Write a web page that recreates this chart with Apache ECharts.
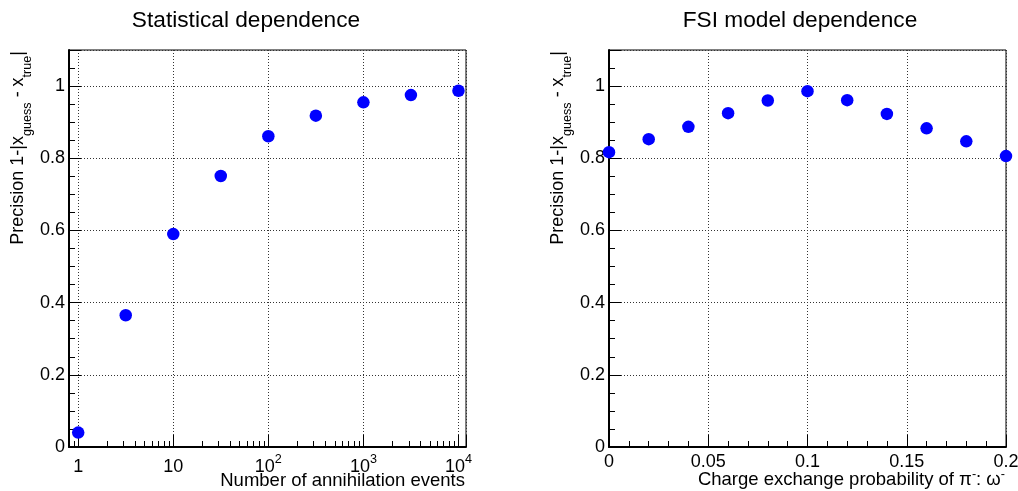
<!DOCTYPE html>
<html>
<head>
<meta charset="utf-8">
<title>Precision dependence</title>
<script src="https://cdn.jsdelivr.net/npm/echarts@6/dist/echarts.min.js"></script>
<style>
  html, body { margin: 0; padding: 0; background: #fff; }
  #chart { width: 1018px; height: 491px; }
</style>
</head>
<body>
<div id="chart"></div>
<script>
// Left panel: precision versus number of annihilation events (log scale)
const events = [1, 3.16, 10, 31.6, 100, 316, 1000, 3160, 10000];
const precisionStat = [0.04, 0.365, 0.59, 0.751, 0.861, 0.918, 0.955, 0.975, 0.987];

// Right panel: precision versus charge exchange probability
const chargeExchange = [0, 0.02, 0.04, 0.06, 0.08, 0.1, 0.12, 0.14, 0.16, 0.18, 0.2];
const precisionFsi = [0.817, 0.853, 0.887, 0.925, 0.960, 0.986, 0.961, 0.923, 0.883, 0.847, 0.806];

// Minor tick positions of the logarithmic axis
const logMinorTicks = [0.9, 2, 3, 4, 5, 6, 7, 8, 9, 20, 30, 40, 50, 60, 70, 80, 90,
  200, 300, 400, 500, 600, 700, 800, 900, 2000, 3000, 4000, 5000, 6000, 7000, 8000, 9000];

const titles = ['Statistical dependence', 'FSI model dependence'];
const yName = 'Precision 1-|x{sub|guess} - x{sub|true}|';
const xNames = ['Number of annihilation events', 'Charge exchange probability of π{sup|-}: ω{sup|-}'];

const FONT = '"Liberation Sans", Arial, Helvetica, sans-serif';
const LOG_MIN = 0.8, LOG_MAX = 12000;

const chart = echarts.init(document.getElementById('chart'), null, { renderer: 'canvas' });

const grids = [
  { left: 69, top: 50, width: 397, height: 397 },
  { left: 609, top: 50, width: 397, height: 397 }
];

const dotted = { show: true, lineStyle: { color: '#333', width: 1, type: [1, 2] } };
const axisLine = { show: true, onZero: false, lineStyle: { color: '#000', width: 2 } };

function decadeLabel(v) {
  const l = Math.log10(v);
  const e = Math.round(l);
  if (Math.abs(l - e) > 1e-6) return '';
  if (e === 0) return '1';
  if (e === 1) return '10';
  return '10{sup|' + e + '}';
}

function yLabel(v) {
  if (v > 1.05) return '';
  return String(Math.round(v * 10) / 10);
}

function yAxis(gridIndex) {
  return {
    type: 'value', gridIndex: gridIndex, min: 0, max: 1.1, interval: 0.2,
    axisLine: axisLine,
    axisTick: { show: true, inside: true, length: 12, lineStyle: { color: '#000', width: 1 } },
    minorTick: { show: true, splitNumber: 4, length: 6, lineStyle: { color: '#000', width: 1 } },
    axisLabel: { margin: 4, fontSize: 18, fontFamily: FONT, color: '#000', formatter: yLabel },
    splitLine: dotted
  };
}

const marker = { color: '#0000ff', opacity: 1 };

const option = {
  animation: false,
  backgroundColor: '#fff',
  title: titles.map((t, i) => ({
    text: t, left: i === 0 ? 241 : 795, top: 4, textAlign: 'center',
    textStyle: { fontSize: 22.7, fontWeight: 'normal', fontFamily: FONT, color: '#000' }
  })),
  grid: grids.map(g => Object.assign({
    show: true, borderColor: '#000', borderWidth: 1, backgroundColor: 'transparent',
    containLabel: false, outerBoundsMode: 'none'
  }, g)),
  xAxis: [
    {
      type: 'log', logBase: 10, gridIndex: 0, position: 'bottom', min: LOG_MIN, max: LOG_MAX,
      axisLine: axisLine,
      axisTick: { show: true, inside: true, length: 12, lineStyle: { color: '#000', width: 1 } },
      axisLabel: {
        margin: 6, fontSize: 18, fontFamily: FONT, color: '#000', lineHeight: 28,
        formatter: decadeLabel,
        rich: { sup: { fontSize: 12.6, fontFamily: FONT, color: '#000', verticalAlign: 'top', lineHeight: 13 } }
      },
      splitLine: dotted
    },
    {
      // helper axis in decade units carrying only the minor ticks
      type: 'value', gridIndex: 0, position: 'bottom',
      min: Math.log10(LOG_MIN), max: Math.log10(LOG_MAX),
      axisLine: { show: false },
      axisLabel: { show: false },
      splitLine: { show: false },
      axisTick: {
        show: true, inside: true, length: 6,
        customValues: logMinorTicks.map(v => Math.log10(v)),
        lineStyle: { color: '#000', width: 1 }
      }
    },
    {
      type: 'value', gridIndex: 1, position: 'bottom', min: 0, max: 0.2, interval: 0.05,
      axisLine: axisLine,
      axisTick: { show: true, inside: true, length: 12, lineStyle: { color: '#000', width: 1 } },
      minorTick: { show: true, splitNumber: 5, length: 6, lineStyle: { color: '#000', width: 1 } },
      axisLabel: { margin: 5, fontSize: 18, fontFamily: FONT, color: '#000', lineHeight: 20 },
      splitLine: dotted
    }
  ],
  yAxis: [yAxis(0), yAxis(1)],
  series: [
    {
      type: 'scatter', xAxisIndex: 0, yAxisIndex: 0, clip: false, z: 5,
      symbol: 'circle', symbolSize: 12.5,
      itemStyle: marker,
      data: events.map((x, i) => [x, precisionStat[i]])
    },
    {
      type: 'scatter', xAxisIndex: 2, yAxisIndex: 1, clip: false, z: 5,
      symbol: 'circle', symbolSize: 12.5,
      itemStyle: marker,
      data: chargeExchange.map((x, i) => [x, precisionFsi[i]])
    }
  ],
  graphic: [
    // y axis titles, reading bottom to top, ending at the top of each frame
    ...[18.5, 558.5].map(x => ({
      type: 'text', x: x, y: 51, rotation: Math.PI / 2,
      style: {
        text: yName, fontSize: 18, fontFamily: FONT, fill: '#000',
        align: 'right', verticalAlign: 'middle', lineHeight: 31,
        rich: { sub: { fontSize: 12.6, fontFamily: FONT, fill: '#000', verticalAlign: 'bottom', lineHeight: 13 } }
      }
    })),
    // x axis titles, right-aligned under each frame
    ...[[465, 481], [1005, 480]].map((p, i) => ({
      type: 'text', x: p[0], y: p[1],
      style: {
        text: xNames[i], fontSize: 18.5, fontFamily: FONT, fill: '#000',
        align: 'right', verticalAlign: 'middle', lineHeight: 24,
        rich: { sup: { fontSize: 12.6, fontFamily: FONT, fill: '#000', verticalAlign: 'top', lineHeight: 13 } }
      }
    }))
  ]
};

chart.setOption(option);
</script>
</body>
</html>
